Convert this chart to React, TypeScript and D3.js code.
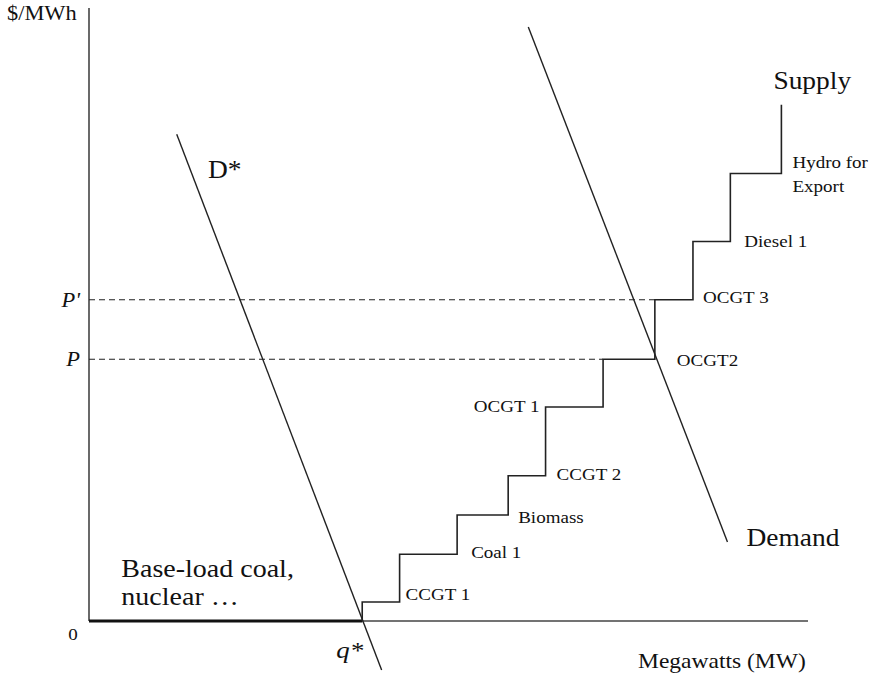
import React from 'react';
import * as d3 from 'd3';

// merit order (cumulative MW at right edge of each block, offer price $/MWh)
const plantNames = ['Base-load coal,|nuclear …', 'CCGT 1', 'Coal 1', 'Biomass', 'CCGT 2', 'OCGT 1', 'OCGT2', 'OCGT 3', 'Diesel 1', 'Hydro for|Export'];
const plantQ = [38, 43.2, 51.2, 58.3, 63.5, 71.5, 78.7, 84.0, 89.2, 96.3];
const plantPrice = [0, 3.1, 10.9, 17.3, 23.7, 34.9, 42.7, 52.4, 61.9, 73.0];
const supplyTopPrice = 84.2;

// demand curves, two end points each
const demandQ = [61.1, 88.8];
const demandP = [96.9, 12.9];
const dStarQ = [12.2, 40.7];
const dStarP = [79.4, -8.0];

// clearing prices
const priceLabels = ['P', "P'"];
const priceValues = [42.7, 52.4];
const priceQ = [71.5, 78.7];
const qStar = 38;

const W = 880;
const H = 676;
const STRETCH = 1.12;
const FONT = '"Liberation Serif", "Times New Roman", serif';

function Label({ x, y, size, anchor = 'start', italic = false, children }: any) {
  return (
    <text
      transform={`translate(${x},${y}) scale(${STRETCH},1)`}
      textAnchor={anchor}
      fontSize={size}
      fontStyle={italic ? 'italic' : 'normal'}
      fontFamily={FONT}
      fill="#111"
    >
      {children}
    </text>
  );
}

export default function App() {
  const x = d3.scaleLinear().domain([0, 100]).range([89, 808]);
  const y = d3.scaleLinear().domain([0, 100]).range([621, 8]);

  // supply step path
  const pts: [number, number][] = [[plantQ[0], 0]];
  for (let i = 1; i < plantQ.length; i++) {
    pts.push([plantQ[i - 1], plantPrice[i]]);
    pts.push([plantQ[i], plantPrice[i]]);
  }
  pts.push([plantQ[plantQ.length - 1], supplyTopPrice]);
  const line = d3.line<[number, number]>().x((d) => x(d[0])).y((d) => y(d[1]));

  const demandPts = demandQ.map((q, i) => [q, demandP[i]] as [number, number]);
  const dStarPts = dStarQ.map((q, i) => [q, dStarP[i]] as [number, number]);

  // label offsets from the step corner, px
  const offs = [
    null,
    [6, -2, 'start'],
    [14, 4, 'start'],
    [10, 8, 'start'],
    [11, 4, 'start'],
    [-6, 5, 'end'],
    [22, 7, 'start'],
    [10, 3.5, 'start'],
    [14, 5, 'start'],
    [11, -5.5, 'start'],
  ];

  return (
    <div style={{ position: 'absolute', left: 0, top: 0, background: '#fff' }}>
      <svg width={W} height={H} style={{ display: 'block' }}>
        <rect width={W} height={H} fill="#fff" />

        {/* axes */}
        <line x1={x(0)} x2={x(0)} y1={y(100)} y2={y(0)} stroke="#444" strokeWidth={1.6} />
        <line x1={x(0)} x2={x(100)} y1={y(0)} y2={y(0)} stroke="#444" strokeWidth={1.6} />
        {/* base load block */}
        <line x1={x(0)} x2={x(plantQ[0])} y1={y(0)} y2={y(0)} stroke="#111" strokeWidth={3} />

        {/* price dashes */}
        {priceValues.map((p, i) => (
          <line key={i} x1={x(0)} x2={x(priceQ[i])} y1={y(p)} y2={y(p)} stroke="#222" strokeWidth={1.1} strokeDasharray="6 4" />
        ))}

        <path d={line(pts) || ''} fill="none" stroke="#222" strokeWidth={1.6} />
        <path d={line(demandPts) || ''} fill="none" stroke="#222" strokeWidth={1.4} />
        <path d={line(dStarPts) || ''} fill="none" stroke="#222" strokeWidth={1.4} />

        {/* plant labels */}
        {plantNames.map((n, i) => {
          if (i === 0) {
            const [a, b] = n.split('|');
            return (
              <g key={i}>
                <Label x={x(4.5)} y={577} size={25}>{a}</Label>
                <Label x={x(4.5)} y={605} size={25}>{b}</Label>
              </g>
            );
          }
          const o: any = offs[i];
          const bx = o[2] === 'end' ? x(plantQ[i - 1]) : x(plantQ[i]);
          const by = y(plantPrice[i]);
          return n.split('|').map((part, j) => (
            <Label key={`${i}-${j}`} x={bx + o[0]} y={by + o[1] + j * 24} size={17} anchor={o[2]}>
              {part}
            </Label>
          ));
        })}

        <Label x={x(plantQ[plantQ.length - 1]) - 8} y={y(supplyTopPrice) - 16} size={24.5}>Supply</Label>
        <Label x={x(demandQ[1]) + 19} y={y(demandP[1]) + 4} size={24.5}>Demand</Label>
        <Label x={208} y={178} size={24.5}>D*</Label>

        {priceLabels.map((l, i) => (
          <Label key={l} x={x(0) - 9} y={y(priceValues[i]) + 7} size={20} anchor="end" italic>
            {l}
          </Label>
        ))}

        <Label x={x(qStar) + 1} y={658} size={24} anchor="end" italic>q*</Label>
        <Label x={x(0) - 16} y={640} size={17} anchor="middle">0</Label>
        <Label x={7} y={20} size={20}>$/MWh</Label>
        <Label x={638} y={668} size={21}>Megawatts (MW)</Label>
      </svg>
    </div>
  );
}
